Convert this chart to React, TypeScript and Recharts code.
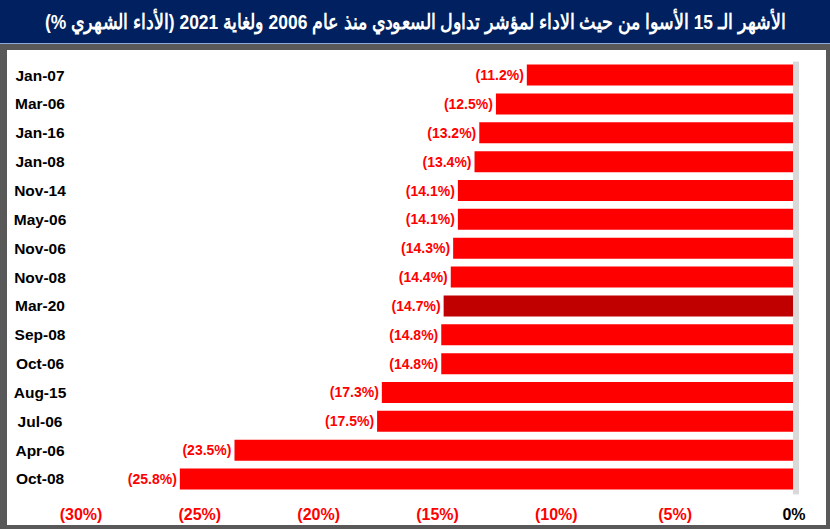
import React from "react";
import { BarChart, Bar, XAxis, YAxis, Cell, LabelList, ReferenceLine } from "recharts";

const title = "الأشهر الـ 15 الأسوا من حيث الاداء لمؤشر تداول السعودي منذ عام 2006 ولغاية 2021 (الأداء الشهري %)";
const months = ["Jan-07", "Mar-06", "Jan-16", "Jan-08", "Nov-14", "May-06", "Nov-06", "Nov-08", "Mar-20", "Sep-08", "Oct-06", "Aug-15", "Jul-06", "Apr-06", "Oct-08"];
const returns = [-11.2, -12.5, -13.2, -13.4, -14.1, -14.1, -14.3, -14.4, -14.7, -14.8, -14.8, -17.3, -17.5, -23.5, -25.8];
const highlighted = ["Mar-20"];
const xTicks = [-30, -25, -20, -15, -10, -5, 0];

const data = months.map((m, i) => ({ month: m, value: returns[i] }));

const FONT = "'Liberation Sans', Arial, sans-serif";

const YTick = (props: any) => {
  const { x, y, payload } = props;
  return (
    <text x={x - 40} y={y} textAnchor="middle" dominantBaseline="central" fontFamily={FONT} fontWeight="bold" fontSize={15.5} fill="#000">
      {payload.value}
    </text>
  );
};

const XTick = (props: any) => {
  const { x, y, payload } = props;
  const v = payload.value as number;
  return (
    <text x={x + 1} y={y + 13} textAnchor="middle" dominantBaseline="central" fontFamily={FONT} fontWeight="bold" fontSize={16} fill={v < 0 ? "#FF0000" : "#000"}>
      {v < 0 ? `(${Math.abs(v)}%)` : "0%"}
    </text>
  );
};

const ValueLabel = (props: any) => {
  const { x, y, width, height, value } = props;
  const left = Math.min(x, x + width);
  return (
    <text x={left - 3} y={y + height / 2} textAnchor="end" dominantBaseline="central" fontFamily={FONT} fontWeight="bold" fontSize={14} fill="#FF0000">
      {`(${Math.abs(value).toFixed(1)}%)`}
    </text>
  );
};

const ZeroLine = (props: any) => {
  const { x1, y1, y2 } = props;
  return <rect x={x1} y={Math.min(y1, y2) + 1} width={6} height={Math.abs(y2 - y1)} fill="#D9D9D9" />;
};

export default function App() {
  return (
    <div style={{ position: "absolute", left: 0, top: 0, width: 830, height: 529, background: "#595959", overflow: "hidden" }}>
      <div style={{ position: "absolute", left: 0, top: 0, width: 830, height: 43, background: "#002060", borderBottom: "1px solid #8EA9DB", display: "flex", alignItems: "center", justifyContent: "center", overflow: "hidden" }}>
        <div dir="rtl" style={{ color: "#fff", fontFamily: FONT, fontWeight: "bold", fontSize: 21, whiteSpace: "nowrap", transform: "scaleX(0.83)", transformOrigin: "center" }}>{title}</div>
      </div>
      <div style={{ position: "absolute", left: 7, top: 50, width: 819, height: 475, background: "#fff" }} />
      <div style={{ position: "absolute", left: 0, top: 0 }}>
        <BarChart width={830} height={529} data={data} layout="vertical" margin={{ top: 60.6, right: 37, bottom: 5.6, left: 0 }} barSize={21}>
          <XAxis type="number" dataKey="value" domain={[-30, 0]} ticks={xTicks} axisLine={false} tickLine={false} height={30} tick={<XTick />} interval={0} />
          <YAxis type="category" dataKey="month" width={80} axisLine={false} tickLine={false} tickSize={0} tickMargin={0} tick={<YTick />} interval={0} />
          <ReferenceLine x={0} shape={<ZeroLine />} ifOverflow="visible" />
          <Bar dataKey="value" isAnimationActive={false}>
            {data.map((d) => (
              <Cell key={d.month} fill={highlighted.includes(d.month) ? "#C00000" : "#FF0000"} />
            ))}
            <LabelList dataKey="value" content={<ValueLabel />} />
          </Bar>
        </BarChart>
      </div>
    </div>
  );
}
